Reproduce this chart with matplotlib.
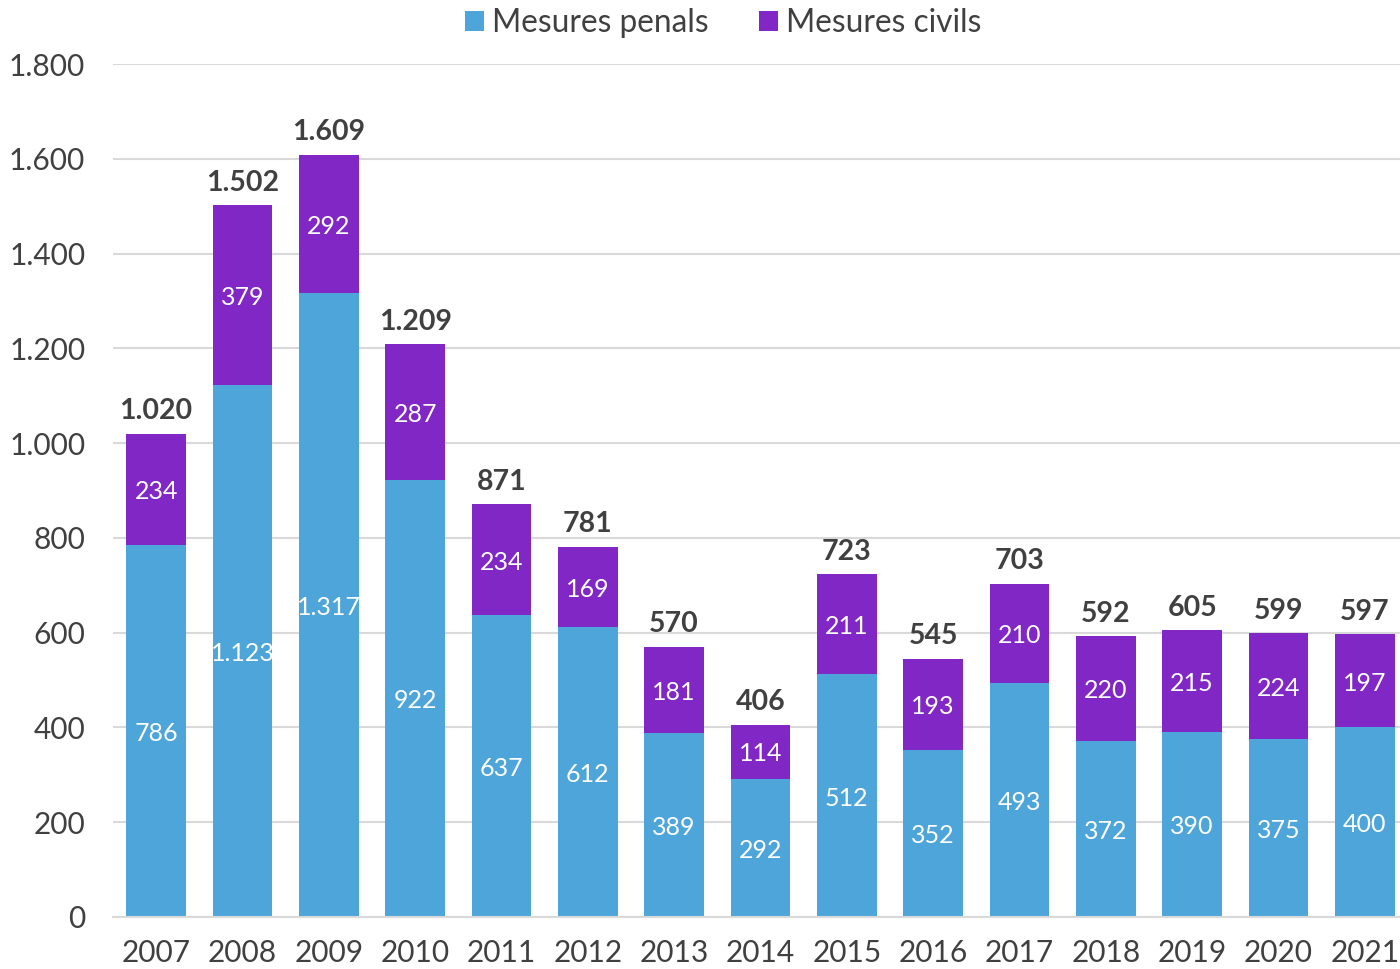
import matplotlib.pyplot as plt
from matplotlib.ticker import FuncFormatter

years = ['2007', '2008', '2009', '2010', '2011', '2012', '2013', '2014',
         '2015', '2016', '2017', '2018', '2019', '2020', '2021']
penals = [786, 1123, 1317, 922, 637, 612, 389, 292, 512, 352, 493, 372, 390, 375, 400]
civils = [234, 379, 292, 287, 234, 169, 181, 114, 211, 193, 210, 220, 215, 224, 197]

BLUE = '#4EA5DA'
PURPLE = '#8027C5'
TXT = '#404040'

plt.rcParams['font.family'] = ['Lato', 'DejaVu Sans']


def fmt(v):
    return f'{int(v):,}'.replace(',', '.')


fig = plt.figure(figsize=(14, 9.69), dpi=100)
ax = fig.add_axes([113 / 1400, 1 - 917 / 969, 1295 / 1400, (917 - 64) / 969])

x = range(len(years))
b1 = ax.bar(x, penals, width=0.69, color=BLUE, label='Mesures penals', zorder=2)
b2 = ax.bar(x, civils, width=0.69, bottom=penals, color=PURPLE,
            label='Mesures civils', zorder=2)

for i in x:
    ax.text(i, penals[i] / 2 - 5, fmt(penals[i]), ha='center', va='center',
            color='white', fontsize=18)
    ax.text(i, penals[i] + civils[i] / 2 - 5, fmt(civils[i]), ha='center', va='center',
            color='white', fontsize=18)
    tot = penals[i] + civils[i]
    ax.text(i, tot + 20, fmt(tot), ha='center', va='bottom',
            color=TXT, fontsize=20.5, fontweight='bold')

ax.set_xlim(-0.5, len(years) - 0.5)
ax.set_ylim(0, 1800)
ax.set_yticks(range(0, 1801, 200))
ax.yaxis.set_major_formatter(FuncFormatter(lambda v, p: fmt(v)))
ax.set_xticks(list(x))
ax.set_xticklabels(years)
ax.tick_params(axis='both', length=0, labelsize=21.5, labelcolor=TXT)
ax.tick_params(axis='y', pad=20)
ax.tick_params(axis='x', pad=16)
ax.grid(axis='y', color='#D9D9D9', lw=1.5, zorder=0)
for s in ['top', 'right', 'left']:
    ax.spines[s].set_visible(False)
ax.spines['bottom'].set_color('#D9D9D9')
ax.spines['bottom'].set_linewidth(1.5)

fig.legend(handles=[b1, b2], loc='center', bbox_to_anchor=(723 / 1400, 1 - 23 / 969),
           ncol=2, frameon=False, fontsize=22.8, labelcolor=TXT,
           handlelength=0.6, handleheight=0.6, handletextpad=0.25, columnspacing=1.6)

fig.savefig('out.png', dpi=100)
